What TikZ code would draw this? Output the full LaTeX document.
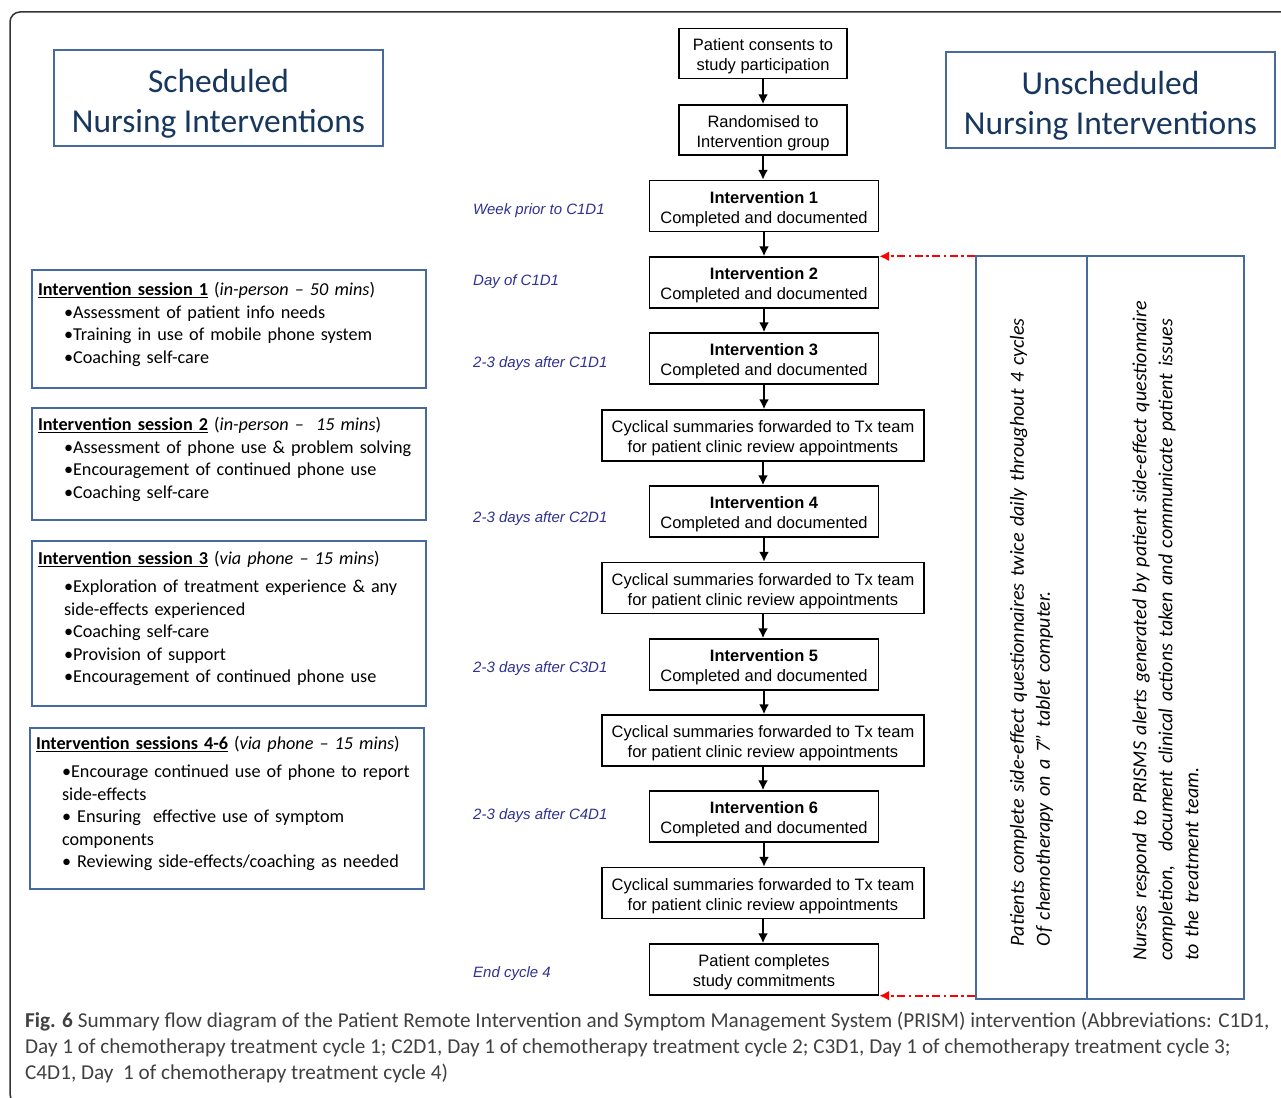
\documentclass[tikz,border=0pt]{standalone}
\usepackage{fontspec}
\setmainfont{Liberation Sans}
\newfontfamily\calfont{Carlito}
\usepackage{tikz}
\usetikzlibrary{arrows.meta}
\definecolor{boxblue}{RGB}{70,105,160}
\definecolor{titlenavy}{RGB}{23,55,94}
\definecolor{labelblue}{RGB}{46,49,146}
\definecolor{capgray}{RGB}{64,64,64}
\definecolor{framegray}{RGB}{50,50,50}
\newcommand{\ind}{\hspace*{26pt}}

\begin{document}
\begin{tikzpicture}[x=1pt,y=-1pt,>={Latex[length=10pt,width=10pt]},
   flow/.style={draw,line width=1.4pt,align=center,inner sep=2pt,text height=38pt,font=\fontsize{16.5}{20}\selectfont},
   flowsmall/.style={flow,minimum width=168pt,minimum height=50pt},
   flowmid/.style={flow,minimum width=229pt,minimum height=51pt},
   flowwide/.style={flow,minimum width=322pt,minimum height=51pt},
   link/.style={->,line width=2pt},
   when/.style={anchor=west,inner sep=0pt,text=labelblue,font=\itshape\fontsize{15}{18}\selectfont},
   sess/.style={draw=boxblue,line width=2pt,anchor=north west,text width=382pt,inner sep=6pt,text height=4pt,align=left,
      font=\calfont\fontsize{18.2}{22.6}\selectfont,execute at begin node={\hyphenpenalty=10000\relax}},
   headbox/.style={draw=boxblue,line width=1.5pt,minimum width=329pt,minimum height=96pt,align=center,text=titlenavy,
      font=\calfont\fontsize{33.5}{40}\selectfont},
   sidebox/.style={draw=boxblue,line width=1.5pt,minimum height=743pt},
   sidetext/.style={rotate=90,align=left,font=\calfont\itshape\fontsize{20}{26}\selectfont},
   alertline/.style={->,red,line width=2.2pt,dash pattern=on 8pt off 3.5pt on 2.5pt off 3.5pt}]

   \useasboundingbox (0,0) rectangle (1281,1097);
   \draw[framegray,line width=1.5pt,rounded corners=10pt] (1295,12) -- (10,12) -- (10,1104) -- (40,1104);

   % titles
   \node[headbox] (sched) at (218.5,98) {\rule{0pt}{35pt}Scheduled\\Nursing Interventions};
   \node[headbox] (unsched) at (1110.5,100) {\rule{0pt}{35pt}Unscheduled\\Nursing Interventions};

   % flow chart
   \node[flowsmall] (consent) at (763,53.5) {Patient consents to\\study participation};
   \node[flowsmall] (random) at (763,130) {Randomised to\\Intervention group};
   \node[flowmid] (int1) at (764,206) {\textbf{Intervention 1}\\Completed and documented};
   \node[flowmid] (int2) at (764,282.5) {\textbf{Intervention 2}\\Completed and documented};
   \node[flowmid] (int3) at (764,358.5) {\textbf{Intervention 3}\\Completed and documented};
   \node[flowwide] (cyc1) at (763,435.5) {Cyclical summaries forwarded to Tx team\\for patient clinic review appointments};
   \node[flowmid] (int4) at (764,511.5) {\textbf{Intervention 4}\\Completed and documented};
   \node[flowwide] (cyc2) at (763,588) {Cyclical summaries forwarded to Tx team\\for patient clinic review appointments};
   \node[flowmid] (int5) at (764,664.5) {\textbf{Intervention 5}\\Completed and documented};
   \node[flowwide] (cyc3) at (763,740.5) {Cyclical summaries forwarded to Tx team\\for patient clinic review appointments};
   \node[flowmid] (int6) at (764,816.5) {\textbf{Intervention 6}\\Completed and documented};
   \node[flowwide] (cyc4) at (763,893) {Cyclical summaries forwarded to Tx team\\for patient clinic review appointments};
   \node[flowmid] (done) at (764,969.5) {Patient completes\\study commitments};

   \draw[link] (consent) -- (random);
   \draw[link] (random) -- (random |- int1.north);
   \draw[link] (int1) -- (int2);
   \draw[link] (int2) -- (int3);
   \draw[link] (int3) -- (int3 |- cyc1.north);
   \draw[link] (cyc1) -- (cyc1 |- int4.north);
   \draw[link] (int4) -- (int4 |- cyc2.north);
   \draw[link] (cyc2) -- (cyc2 |- int5.north);
   \draw[link] (int5) -- (int5 |- cyc3.north);
   \draw[link] (cyc3) -- (cyc3 |- int6.north);
   \draw[link] (int6) -- (int6 |- cyc4.north);
   \draw[link] (cyc4) -- (cyc4 |- done.north);

   % timing labels
   \node[when] (t1) at (473,211) {Week prior to C1D1};
   \node[when] (t2) at (473,282) {Day of C1D1};
   \node[when] (t3) at (473,364) {2-3 days after C1D1};
   \node[when] (t4) at (473,519) {2-3 days after C2D1};
   \node[when] (t5) at (473,669) {2-3 days after C3D1};
   \node[when] (t6) at (473,816) {2-3 days after C4D1};
   \node[when] (t7) at (473,974) {End cycle 4};

   % scheduled sessions
   \node[sess,minimum height=118pt] (sess1) at (31,269) {\underline{\textbf{Intervention session 1}} (\textit{in-person – 50 mins})\\
      \ind•Assessment of patient info needs\\
      \ind•Training in use of mobile phone system\\
      \ind•Coaching self-care};
   \node[sess,minimum height=112pt] (sess2) at (31,407) {\underline{\textbf{Intervention session 2}} (\textit{in-person –\ \ 15 mins})\\
      \ind•Assessment of phone use \& problem solving\\
      \ind•Encouragement of continued phone use\\
      \ind•Coaching self-care};
   \node[sess,minimum height=165pt] (sess3) at (31,540) {\underline{\textbf{Intervention session 3}} (\textit{via phone – 15 mins})\\[5pt]
      \ind•Exploration of treatment experience \& any\\
      \ind side-effects experienced\\
      \ind•Coaching self-care\\
      \ind•Provision of support\\
      \ind•Encouragement of continued phone use};
   \node[sess,minimum height=161pt] (sess4) at (29,727) {\underline{\textbf{Intervention sessions 4-6}} (\textit{via phone – 15 mins})\\[5pt]
      \ind•Encourage continued use of phone to report\\
      \ind side-effects\\
      \ind• Ensuring\ \ effective use of symptom\\
      \ind components\\
      \ind• Reviewing side-effects/coaching as needed};

   % unscheduled
   \node[sidebox,minimum width=111pt] (selfbox) at (1031.5,627.5) {};
   \node[sidebox,minimum width=157pt] (nursebox) at (1165.5,627.5) {};
   \node[sidetext,text width=645pt,xshift=4pt] (selftext) at (selfbox.center) {Patients complete side-effect questionnaires twice daily throughout 4 cycles\\Of chemotherapy on a 7” tablet computer.};
   \node[sidetext,text width=666pt] (nursetext) at (nursebox.center) {Nurses respond to PRISMS alerts generated by patient side-effect questionnaire\\completion,\ \ document clinical actions taken and communicate patient issues\\to the treatment team.};

   \draw[alertline] (int2.north east -| selfbox.west) -- (int2.north east);
   \draw[alertline] (done.south east -| selfbox.west) -- (done.south east);

   % caption
   \node[anchor=north west,align=left,inner sep=0pt,text=capgray,font=\calfont\fontsize{21.2}{26}\selectfont] (caption) at (25,1012)
      {\textbf{Fig. 6} Summary flow diagram of the Patient Remote Intervention and Symptom Management System (PRISM) intervention (Abbreviations: C1D1,\\
       Day 1 of chemotherapy treatment cycle 1; C2D1, Day 1 of chemotherapy treatment cycle 2; C3D1, Day 1 of chemotherapy treatment cycle 3;\\
       C4D1, Day\ \ 1 of chemotherapy treatment cycle 4)};
\end{tikzpicture}
\end{document}
